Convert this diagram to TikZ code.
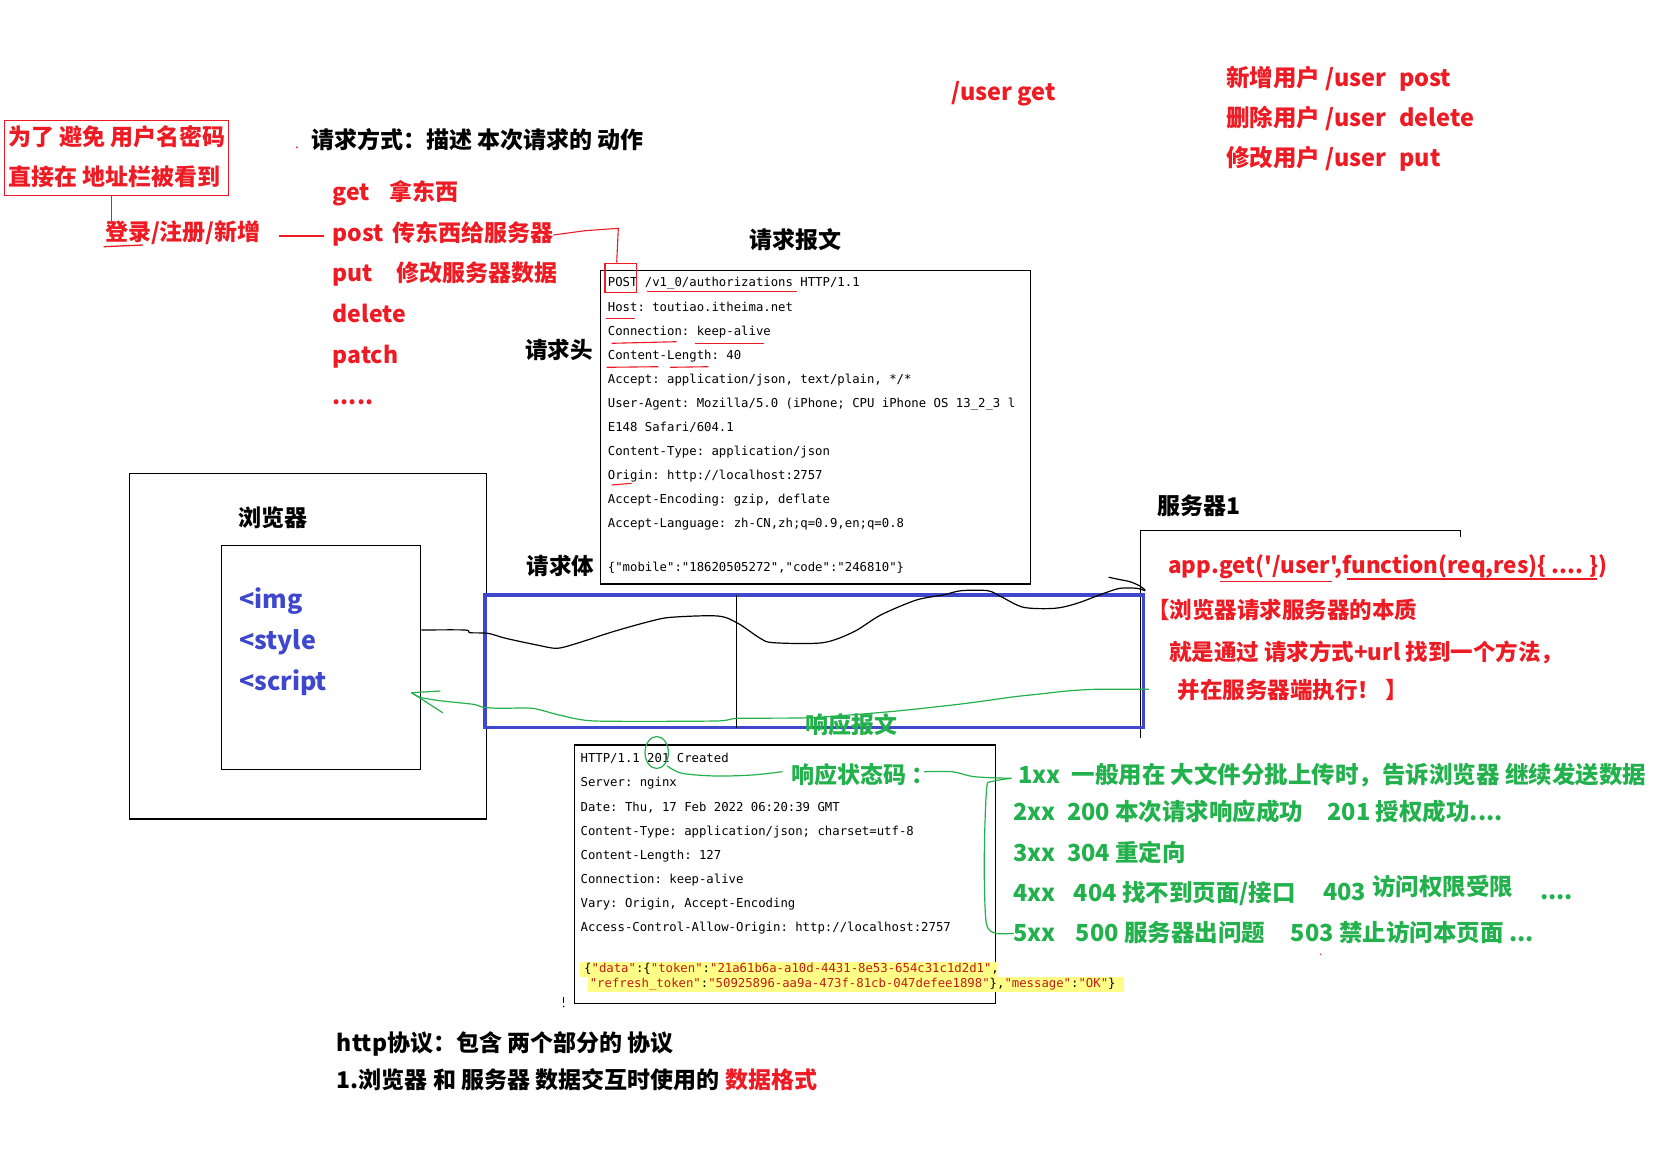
\documentclass[tikz,border=0pt]{standalone}
\usepackage{fontspec}
\newfontfamily\cjk{Noto Sans CJK SC}
\newfontfamily\mono{DejaVu Sans Mono}
\definecolor{pred}{HTML}{ED1C24}
\definecolor{pgreen}{HTML}{22B14C}
\definecolor{pblue}{HTML}{3F48CC}
\definecolor{hl}{HTML}{FFFF88}
\definecolor{jsred}{HTML}{C41A16}
\newcommand\fsz[1]{\fontsize{#1}{#1}\selectfont}
\newcommand\js[1]{\textcolor{jsred}{#1}}
\tikzset{
  t23/.style={inner sep=0pt, anchor=base west, font=\cjk\bfseries\fsz{23}},
  t22/.style={inner sep=0pt, anchor=base west, font=\cjk\bfseries\fsz{22.5}},
  t24/.style={inner sep=0pt, anchor=base west, font=\cjk\bfseries\fsz{23.5}},
  t25/.style={inner sep=0pt, anchor=base west, font=\cjk\bfseries\fsz{25}},
  mn/.style={inner sep=0pt, anchor=base west, font=\mono\frenchspacing\fsz{12.3}},
  boxline/.style={draw=black, line width=1.2pt},
  redline/.style={draw=pred, line width=1.3pt},
  hand/.style={line width=1.2pt, line join=round, line cap=round},
}
\begin{document}
\begin{tikzpicture}[x=1pt,y=-1pt]
\useasboundingbox (0,0) rectangle (1678,1152);
\fill[white] (0,0) rectangle (1678,1152);

% ---------- top-left red note ----------
\draw[redline, line width=1.2pt] (4.5,120.7) rectangle (228.6,195.7);
\node[t23, text=pred] (note1) at (8,145) {为了 避免 用户名密码};
\node[t23, text=pred] (note2) at (8,185.6) {直接在 地址栏被看到};
\node[t23, text=pred] (login) at (104.9,240) {登录/注册/新增};
\draw[redline] (111.6,195.7) -- (111.6,221);
\draw[redline] (103.6,246.7) -- (143,245);
\draw[redline] (279,236) -- (323.7,236);

% ---------- request methods ----------
\fill[pred] (296.9,147.3) circle (1pt);
\node[t23] (title) at (311.2,148.3) {请求方式：描述 本次请求的 动作};
\node[t23, text=pred] (mget) at (332.6,200.6) {get};
\node[t23, text=pred] (mget2) at (389.7,200.6) {拿东西};
\node[t23, text=pred] (mpost) at (332.6,241.6) {post};
\node[t23, text=pred] (mpost2) at (392,241.6) {传东西给服务器};
\node[t23, text=pred] (mput) at (332.6,281.6) {put};
\node[t23, text=pred] (mput2) at (396.4,281.6) {修改服务器数据};
\node[t23, text=pred] (mdel) at (332.6,322.3) {delete};
\node[t23, text=pred] (mpatch) at (332.6,363.3) {patch};
\node[t23, text=pred] (mdots) at (332.6,404.5) {.....};

% ---------- REST examples ----------
\node[t24, text=pred] (uget) at (951.3,100.3) {/user get};
\node[t24, text=pred] (u1) at (1225.9,86.9) {新增用户 /user\hspace{0.55em}post};
\node[t24, text=pred] (u2) at (1225.9,126.9) {删除用户 /user\hspace{0.55em}delete};
\node[t24, text=pred] (u3) at (1225.9,166.9) {修改用户 /user\hspace{0.55em}put};

% ---------- request message ----------
\node[t23] (reqmsg) at (749,248.3) {请求报文};
\node[t22] (reqhead) at (525,358.1) {请求头};
\node[t22] (reqbody) at (526.7,574.8) {请求体};
\draw[boxline] (600.7,270.7) rectangle (1030.7,584);
\node[mn] (r1) at (607.7,286.7) {POST /v1\_0/authorizations HTTP/1.1};
\node[mn] (r2) at (607.7,311.1) {Host: toutiao.itheima.net};
\node[mn] (r3) at (607.7,335.1) {Connection: keep-alive};
\node[mn] (r4) at (607.7,359.1) {Content-Length: 40};
\node[mn] (r5) at (607.7,383.1) {Accept: application/json, text/plain, */*};
\node[mn] (r6) at (607.7,407.1) {User-Agent: Mozilla/5.0 (iPhone; CPU iPhone OS 13\_2\_3 l};
\node[mn] (r7) at (607.7,431.1) {E148 Safari/604.1};
\node[mn] (r8) at (607.7,455.1) {Content-Type: application/json};
\node[mn] (r9) at (607.7,479.1) {Origin: http://localhost:2757};
\node[mn] (r10) at (607.7,503.1) {Accept-Encoding: gzip, deflate};
\node[mn] (r11) at (607.7,527.1) {Accept-Language: zh-CN,zh;q=0.9,en;q=0.8};
\node[mn] (r12) at (607.7,571.7) {\{"mobile":"18620505272","code":"246810"\}};
% red annotations on request
\draw[redline, line width=1.1pt] (605,263.3) rectangle (636.7,292.7);
\draw[redline, line width=1.1pt] (mpost2.east |- 0,235) -- (585,230.7) -- (618.3,228.3) -- (616.7,262.5);
\draw[redline, line width=1.1pt] (646.7,291.7) -- (796.7,291.7);
\draw[redline, line width=1.1pt] (606,318.3) -- (635,318.3);
\draw[redline, line width=1.1pt] (611.7,343.3) -- (676.7,341.7);
\draw[redline, line width=1.1pt] (695,343.3) -- (764.3,343.3);
\draw[redline, line width=1.1pt] (606.7,367.3) -- (658.3,366.7);
\draw[redline, line width=1.1pt] (670,367.3) -- (708.3,366.7);
\draw[redline, line width=1.1pt] (611.7,485) -- (631.7,483.3);

% ---------- browser ----------
\draw[boxline] (129.5,473.3) rectangle (486.7,819);
\node[t23] (browser) at (238.3,526.6) {浏览器};
\draw[boxline] (221.3,545.3) rectangle (420.7,769.3);
\node[t25, text=pblue] (img) at (239,608.5) {<img};
\node[t25, text=pblue] (style) at (239,649.5) {<style};
\node[t25, text=pblue] (script) at (239,690) {<script};

% ---------- server ----------
\node[t23] (server) at (1157,514) {服务器1};
\draw[boxline] (1140.5,738.3) -- (1140.5,530.7) -- (1460.5,530.7) -- (1460.5,536.7);
\node[inner sep=0pt, anchor=base west, font=\cjk\bfseries\fsz{22.4}, text=pred] (appget) at (1168.2,573.4) {app.get('/user',function(req,res)\{ .... \})};
\draw[redline, line width=1.1pt] (1219.8,581.7) -- (1331.5,581.7);
\draw[redline, line width=1.1pt] (1347,579) -- (1596.9,579);
\node[t22, text=pred] (ess1) at (1147,618.8) {【浏览器请求服务器的本质};
\node[t22, text=pred] (ess2) at (1168.9,660.8) {就是通过 请求方式+url 找到一个方法，};
\node[t22, text=pred] (ess3) at (1177.4,698.8) {并在服务器端执行！ 】};

% ---------- transfer area ----------
\draw[pblue, line width=3.3pt] (485,595) rectangle (1143.5,727.5);
\draw[black, line width=1pt] (736.4,595) -- (736.4,728);
\draw[black, hand] plot[smooth, tension=0.5] coordinates {(421.7,630) (465,630) (470,632.7) (487.9,633.3) (505.7,638.3) (537,645) (557,648.3) (577,643.3) (612.9,631.7) (648.6,621.7) (670.9,617.3) (717.8,616) (737.9,623.3) (760.2,638.3) (773.6,642.7) (822.7,642.7) (853.9,631.7) (880.7,615) (916.4,600) (943.2,595) (961,590.7) (987.8,590.7) (1001.2,596.7) (1023.5,607.3) (1054.8,608.3) (1077.1,603.3) (1103.9,593.3) (1120,588.3) (1136.7,588.3) (1145,590.7)};
\draw[black, hand] plot[smooth, tension=0.5] coordinates {(1109,577.3) (1118.3,579.3) (1130,581.7) (1140,586) (1145,590)};
\draw[pgreen, hand] plot[smooth, tension=0.4] coordinates {(1148.5,689.3) (1095,689.3) (1066.7,691) (1040,694) (1014.6,696.7) (961,704) (889.6,711.7) (809.3,717.7) (737.8,718.3) (715.5,721) (595,721) (559.3,715) (532.5,708.3) (500,708.3) (483.3,707.3) (473.3,704.3) (440,700.7) (420,697.3) (411.7,692.7)};
\draw[pgreen, hand] (411.7,692.7) -- (440,691);
\draw[pgreen, hand] (411.7,692.7) -- (442.7,712.7);
\node[t23, text=pgreen] (respmsg) at (804.8,733.9) {响应报文};

% ---------- response message ----------
\draw[boxline] (574.8,745) rectangle (995.5,1003.3);
\node[mn] (s1) at (580.4,762.7) {HTTP/1.1 201 Created};
\node[mn] (s2) at (580.4,786.7) {Server: nginx};
\node[mn] (s3) at (580.4,811.1) {Date: Thu, 17 Feb 2022 06:20:39 GMT};
\node[mn] (s4) at (580.4,835.1) {Content-Type: application/json; charset=utf-8};
\node[mn] (s5) at (580.4,859.1) {Content-Length: 127};
\node[mn] (s6) at (580.4,883.1) {Connection: keep-alive};
\node[mn] (s7) at (580.4,907.1) {Vary: Origin, Accept-Encoding};
\node[mn] (s8) at (580.4,931.1) {Access-Control-Allow-Origin: http://localhost:2757};
\fill[hl] (580.4,961.7) rectangle (997.3,976.7);
\fill[hl] (587.8,976.7) rectangle (1124.3,991.7);
\node[mn] (j1) at (584,972.7) {\{\js{"data"}:\{\js{"token"}:\js{"21a61b6a-a10d-4431-8e53-654c31c1d2d1"},};
\node[mn] (j2) at (589.6,987.7) {\js{"refresh\_token"}:\js{"50925896-aa9a-473f-81cb-047defee1898"}\},\js{"message"}:\js{"OK"}\}};
\draw[black, line width=1pt] (563.7,997) -- (563.7,1003);
\fill[black] (563.7,1006.5) circle (0.8pt);

% ---------- status codes ----------
\draw[pgreen, hand] (656.7,752.5) ellipse (11.7 and 16);
\draw[pgreen, hand] plot[smooth, tension=0.5] coordinates {(667.3,766) (682,773.3) (715.4,776) (752.4,775) (782,771.7)};
\node[t23, text=pgreen] (stcode) at (791.3,783.3) {响应状态码 ：};
\draw[pgreen, hand] plot[smooth, tension=0.5] coordinates {(924.4,771.7) (952.2,771.7) (974.4,776.7) (1010.6,778.3)};
\draw[pgreen, hand] plot[smooth, tension=0.5] coordinates {(1011.2,778.3) (991.1,781.7) (986.7,788) (984.5,840) (984.5,890) (986.7,925) (995.6,933.3) (1013.4,933.3)};
\node[t24, text=pgreen] (st1a) at (1017.8,783.6) {1xx};
\node[t24, text=pgreen] (st1b) at (1071.3,783.6) {一般用在 大文件分批上传时，告诉浏览器 继续发送数据};
\node[t24, text=pgreen] (st2a) at (1013.4,820.3) {2xx};
\node[t24, text=pgreen] (st2b) at (1066.8,820.3) {200 本次请求响应成功};
\node[t24, text=pgreen] (st2c) at (1327.3,820.3) {201 授权成功....};
\node[t24, text=pgreen] (st3a) at (1013.4,861.9) {3xx};
\node[t24, text=pgreen] (st3b) at (1066.8,861.9) {304 重定向};
\node[t24, text=pgreen] (st4a) at (1013.4,901.9) {4xx};
\node[t24, text=pgreen] (st4b) at (1073.5,901.9) {404 找不到页面/接口};
\node[t24, text=pgreen] (st4c) at (1322.8,900.3) {403};
\node[t24, text=pgreen] (st4d) at (1371.8,895.3) {访问权限受限};
\node[t24, text=pgreen] (st4e) at (1540,899) {....};
\node[t24, text=pgreen] (st5a) at (1013.4,941.9) {5xx};
\node[t24, text=pgreen] (st5b) at (1075.7,941.9) {500 服务器出问题};
\node[t24, text=pgreen] (st5c) at (1290.7,941.9) {503 禁止访问本页面 ...};
\fill[pred] (1320.6,954.3) circle (0.8pt);

% ---------- bottom ----------
\node[t23] (proto1) at (336.7,1051.6) {http协议：包含 两个部分的 协议};
\node[t23] (proto2) at (336.7,1088.3) {1.浏览器 和 服务器 数据交互时使用的 \textcolor{pred}{数据格式}};
\end{tikzpicture}
\end{document}
